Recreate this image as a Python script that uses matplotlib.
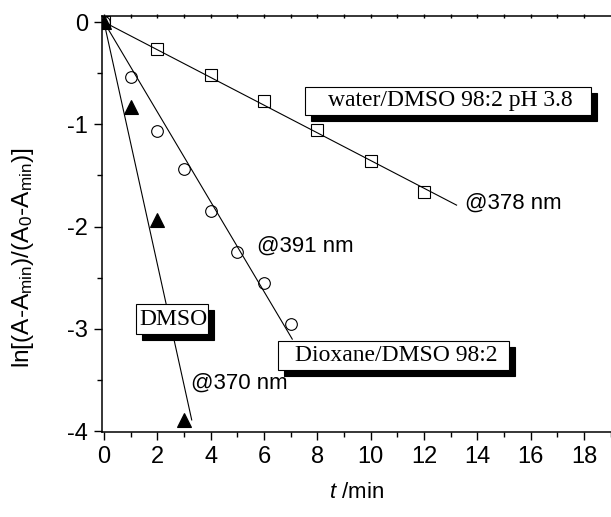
import matplotlib
matplotlib.use('Agg')
import matplotlib.pyplot as plt
import matplotlib.transforms as mtransforms
from matplotlib.patches import Rectangle
from matplotlib.ticker import MultipleLocator

plt.rcParams['font.family'] = ['Liberation Sans', 'DejaVu Sans']
plt.rcParams['mathtext.fontset'] = 'custom'
plt.rcParams['mathtext.rm'] = 'Liberation Sans'
plt.rcParams['mathtext.it'] = 'Liberation Sans:italic'

# water/DMSO 98:2 pH 3.8 (@378 nm)
t_water = [0, 2, 4, 6, 8, 10, 12]
ln_water = [0, -0.26, -0.52, -0.77, -1.06, -1.36, -1.66]
fit_water_t = [0, 13.22]
fit_water_y = [0, -1.79]

# Dioxane/DMSO 98:2 (@391 nm)
t_diox = [0, 1, 2, 3, 4, 5, 6, 7]
ln_diox = [0, -0.54, -1.07, -1.44, -1.85, -2.25, -2.55, -2.95]
fit_diox_t = [0, 7.06]
fit_diox_y = [0, -3.10]

# DMSO (@370 nm)
t_dmso = [0, 1, 2, 3]
ln_dmso = [0, -0.83, -1.94, -3.89]
fit_dmso_t = [0, 3.29]
fit_dmso_y = [0, -3.89]

fig = plt.figure(figsize=(6.11, 5.17), dpi=100)
ax = fig.add_axes([0.1664, 0.1644, 0.8336, 0.8046])

ax.plot(fit_water_t, fit_water_y, color='k', lw=0.8, zorder=2)
ax.plot(fit_diox_t, fit_diox_y, color='k', lw=0.8, zorder=2)
ax.plot(fit_dmso_t, fit_dmso_y, color='k', lw=0.8, zorder=2)

ax.plot(t_water, ln_water, ls='none', marker='s', ms=8, mfc='none', mec='k', mew=0.8, zorder=3)
ax.plot(t_diox, ln_diox, ls='none', marker='o', ms=8.4, mfc='none', mec='k', mew=0.8, zorder=3)
ax.plot(t_dmso, ln_dmso, ls='none', marker='^', ms=9.5, mfc='k', mec='k', mew=0.8, zorder=4)

# wavelength labels
ax.text(13.54, -1.77, '@378 nm', fontsize=16, ha='left', va='center')
ax.text(5.75, -2.19, '@391 nm', fontsize=16, ha='left', va='center')
ax.text(3.25, -3.53, '@370 nm', fontsize=16, ha='left', va='center')

# solvent boxes with drop shadow
shadow = mtransforms.offset_copy(ax.transData, fig=fig, x=6, y=-6, units='dots')
boxes = [
    ('water/DMSO 98:2 pH 3.8', 7.54, 18.26, -0.909, -0.635, 12.99),
    ('DMSO', 1.19, 3.91, -3.053, -2.76, 2.6),
    ('Dioxane/DMSO 98:2', 6.535, 15.2, -3.40, -3.115, 10.97),
]
for label, x0, x1, y0, y1, xt in boxes:
    ax.add_patch(Rectangle((x0, y0), x1 - x0, y1 - y0, facecolor='k', edgecolor='k',
                           lw=0.8, transform=shadow, zorder=5))
    ax.add_patch(Rectangle((x0, y0), x1 - x0, y1 - y0, facecolor='white', edgecolor='k',
                           lw=0.8, zorder=6))
    ax.text(xt, (y0 + y1) / 2, label, fontsize=17, family='Liberation Serif',
            ha='center', va='center', zorder=7)

ax.set_xlim(-0.086, 19.01)
ax.set_ylim(-4.008, 0.0587)
ax.xaxis.set_major_locator(MultipleLocator(2))
ax.xaxis.set_minor_locator(MultipleLocator(1))
ax.yaxis.set_major_locator(MultipleLocator(1))
ax.yaxis.set_minor_locator(MultipleLocator(0.5))
ax.set_yticks([0, -1, -2, -3, -4])
ax.set_yticklabels(['0', '-1', '-2', '-3', '-4'])

ax.tick_params(which='both', direction='out', labelsize=17, width=1)
ax.tick_params(which='major', length=6, pad=4)
ax.tick_params(which='minor', length=3.5)
ax.spines['right'].set_visible(False)
for s in ['left', 'bottom', 'top']:
    ax.spines[s].set_linewidth(1.1)

top = ax.secondary_xaxis('top')
top.set_xticks(range(0, 19))
top.tick_params(direction='inout', length=3, width=1, labeltop=False)
top.spines['top'].set_visible(False)

ax.set_xlabel(r'$\it{t}$ /min', fontsize=16, labelpad=10)
ax.set_ylabel(r'ln[(A-A$_{\mathrm{min}}$)/(A$_{\mathrm{0}}$-A$_{\mathrm{min}}$)]', fontsize=17.6)
ax.yaxis.set_label_coords(-0.129, 0.42)

fig.savefig('out.png', dpi=100)
